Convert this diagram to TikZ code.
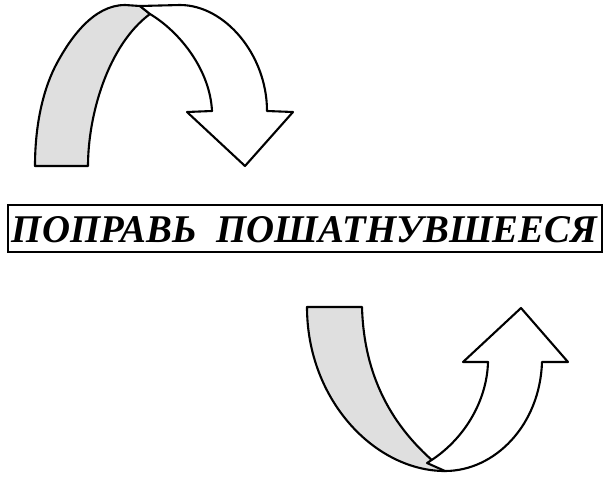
\documentclass[tikz,border=0pt]{standalone}
\usepackage{fontspec}
\setmainfont{Liberation Serif}[BoldItalicFont={Liberation Serif Bold Italic}]
\usepackage{graphicx}
\tikzset{
  ribbon/.style={draw=black, line width=2.1pt, line join=round},
  backside/.style={ribbon, fill=gray!25},
  frontside/.style={ribbon, fill=white},
  framebox/.style={draw=black, line width=1.3pt}
}
\begin{document}
\begin{tikzpicture}[x=1pt,y=-1pt]
\useasboundingbox (0,0) rectangle (609,477);
% top arrow: back (gray) side
\draw[backside] (35,166) .. controls (35,120) and (45,85) .. (57,63)
  .. controls (70,39) and (93,5) .. (125,5) -- (140,6) -- (150,14)
  .. controls (108,45) and (88,115) .. (88,166) -- cycle;
% top arrow: front side with head
\draw[frontside] (150,14) .. controls (180,32) and (210,70) .. (212,111)
  -- (187,112) -- (245,166) -- (293,112) -- (267,111)
  .. controls (267,55) and (225,5) .. (180,5) -- (140,6) -- cycle;
% text box
\draw[framebox] (8,205) rectangle (602,252);
\node[anchor=base, inner sep=0pt] (t) at (304.5,242)
  {\resizebox{585pt}{26pt}{\bfseries\itshape ПОПРАВЬ\ \ ПОШАТНУВШЕЕСЯ}};
% bottom arrow: back (gray) side
\draw[backside] (307,307) -- (362,307)
  .. controls (364,380) and (395,432) .. (445,471)
  .. controls (375,471) and (307,400) .. cycle;
% bottom arrow: front side with head
\draw[frontside] (427,463) .. controls (465,440) and (487,400) .. (488,362)
  -- (463,362) -- (521,308) -- (568,362) -- (542,362)
  .. controls (540,425) and (495,471) .. (445,471) -- cycle;
\end{tikzpicture}
\end{document}
